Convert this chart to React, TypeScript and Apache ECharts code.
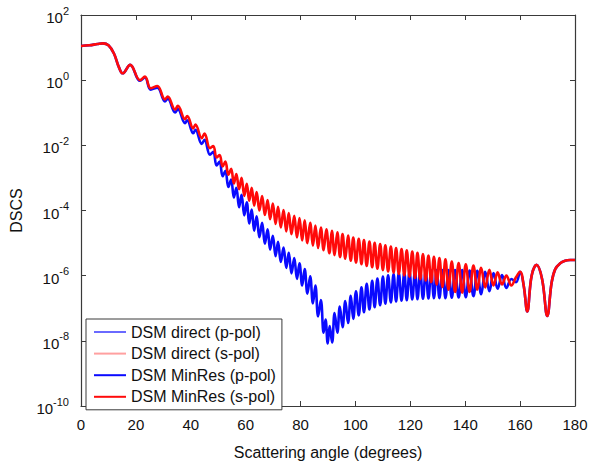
import React, { useEffect, useRef } from "react";
import * as echarts from "echarts";

// [scattering angle (deg), log10(DSCS)]
const sPolPoints: [number, number][] = [
  [0, 1.05], [3, 1.07], [6, 1.11], [8, 1.13], [10, 1.07], [12, 0.82], [13.8, 0.4], [15.2, 0.21],
  [17.9, 0.47], [21.5, 0.0], [23.3, 0.11], [25.4, -0.25], [27.8, -0.18], [30.6, -0.59], [31.6, -0.5],
  [34.3, -0.9], [35.3, -0.79], [37.9, -1.2], [38.7, -1.1], [40.9, -1.48], [41.7, -1.36], [44.0, -1.78],
  [45.0, -1.64], [47.0, -2.09], [48.2, -2.02], [49.4, -2.37], [50.5, -2.3], [51.6, -2.65], [52.6, -2.5],
  [53.7, -2.9], [54.7, -2.72], [55.7, -3.17], [56.6, -2.88], [57.6, -3.35], [58.5, -3.0], [59.5, -3.55],
  [60.4, -3.18], [61.3, -3.7], [62.2, -3.3], [63.1, -3.85], [64.0, -3.43], [65.0, -4.0], [66.0, -3.56],
  [67.0, -4.14], [68.0, -3.68], [68.9, -4.27], [69.9, -3.79], [70.9, -4.41], [71.8, -3.89], [72.8, -4.52],
  [73.8, -3.99], [74.8, -4.64], [75.7, -4.08], [76.7, -4.73], [77.7, -4.16], [78.7, -4.83], [79.6, -4.23],
  [80.6, -4.92], [81.5, -4.3], [82.5, -5.0], [83.5, -4.38], [84.5, -5.08], [85.4, -4.46], [86.4, -5.15],
  [87.4, -4.52], [88.4, -5.22], [89.4, -4.58], [90.5, -5.31], [91.4, -4.62], [92.4, -5.37], [93.4, -4.67],
  [94.4, -5.43], [95.3, -4.72], [96.3, -5.48], [97.3, -4.77], [98.3, -5.54], [99.2, -4.83], [100.2, -5.6],
  [101.2, -4.87], [102.2, -5.65], [103.1, -4.91], [104.1, -5.7], [105.1, -4.95], [106.1, -5.74],
  [107.0, -4.99], [108.0, -5.79], [109.0, -5.03], [110.0, -5.83], [110.9, -5.07], [111.9, -5.87],
  [112.9, -5.11], [113.9, -5.91], [114.8, -5.15], [115.8, -5.95], [116.8, -5.18], [117.8, -5.99],
  [118.7, -5.22], [119.7, -6.03], [120.7, -5.26], [121.7, -6.07], [122.6, -5.3], [123.6, -6.11],
  [124.6, -5.34], [125.6, -6.15], [126.6, -5.38], [127.6, -6.2], [128.6, -5.42], [129.6, -6.27],
  [130.6, -5.46], [131.7, -6.35], [132.8, -5.5], [133.9, -6.43], [135.1, -5.57], [136.3, -6.5],
  [137.6, -5.61], [138.9, -6.52], [140.2, -5.65], [141.6, -6.5], [143.0, -5.69], [144.4, -6.43],
  [145.8, -5.76], [147.3, -6.36], [148.8, -5.82], [150.3, -6.3], [151.8, -5.9], [153.4, -6.27],
  [155.0, -6.0], [156.8, -6.3], [158.5, -6.05], [160.0, -5.88], [161.3, -6.3], [162.6, -7.1],
  [164.2, -6.0], [166.0, -5.67], [168.0, -6.1], [169.9, -7.24], [171.5, -6.2], [172.8, -5.8],
  [174.6, -5.62], [176.4, -5.54], [178.2, -5.52], [180, -5.52],
];

const pPolPoints: [number, number][] = [
  [0, 1.05], [3, 1.07], [6, 1.11], [8, 1.13], [10, 1.07], [12, 0.82], [13.8, 0.4], [15.2, 0.21],
  [17.9, 0.47], [21.5, -0.02], [23.3, 0.08], [25.4, -0.29], [27.8, -0.23], [30.6, -0.65], [31.6, -0.57],
  [34.3, -0.99], [35.3, -0.89], [37.9, -1.32], [38.7, -1.23], [40.9, -1.63], [41.7, -1.52], [44.0, -1.96],
  [45.0, -1.83], [47.0, -2.29], [48.2, -2.2], [49.4, -2.62], [50.5, -2.5], [51.6, -2.95], [52.6, -2.78],
  [53.7, -3.28], [54.7, -3.05], [55.7, -3.6], [56.6, -3.3], [57.6, -3.9], [58.5, -3.52], [59.5, -4.15],
  [60.4, -3.75], [61.3, -4.4], [62.2, -3.97], [63.1, -4.62], [64.0, -4.18], [65.0, -4.82], [66.0, -4.38],
  [67.0, -5.02], [68.0, -4.58], [68.9, -5.2], [69.9, -4.78], [70.9, -5.4], [71.8, -4.96], [72.8, -5.58],
  [73.8, -5.14], [74.8, -5.76], [75.7, -5.3], [76.7, -5.93], [77.7, -5.46], [78.7, -6.1], [79.6, -5.62],
  [80.6, -6.3], [81.5, -5.8], [82.5, -6.55], [83.5, -6.02], [84.5, -6.85], [85.4, -6.3], [86.4, -7.25],
  [87.4, -6.75], [88.4, -7.75], [89.1, -7.35], [89.9, -8.08], [90.6, -7.55], [91.5, -8.05], [92.4, -7.15],
  [93.4, -7.75], [94.3, -6.95], [95.3, -7.58], [96.3, -6.78], [97.3, -7.45], [98.3, -6.62], [99.2, -7.33],
  [100.2, -6.48], [101.2, -7.22], [102.2, -6.36], [103.1, -7.12], [104.1, -6.25], [105.1, -7.04],
  [106.1, -6.16], [107.0, -6.97], [108.0, -6.09], [109.0, -6.91], [110.0, -6.03], [110.9, -6.86],
  [111.9, -5.99], [112.9, -6.82], [113.9, -5.95], [114.8, -6.79], [115.8, -5.92], [116.8, -6.77],
  [117.8, -5.9], [118.7, -6.75], [119.7, -5.88], [120.7, -6.73], [121.7, -5.87], [122.6, -6.72],
  [123.6, -5.86], [124.6, -6.71], [125.6, -5.85], [126.6, -6.7], [127.6, -5.84], [128.6, -6.69],
  [129.6, -5.83], [130.6, -6.69], [131.7, -5.83], [132.8, -6.69], [133.9, -5.83], [135.1, -6.68],
  [136.3, -5.83], [137.6, -6.67], [138.9, -5.83], [140.2, -6.66], [141.6, -5.84], [143.0, -6.63],
  [144.4, -5.85], [145.8, -6.57], [147.3, -5.88], [148.8, -6.48], [150.3, -5.92], [151.8, -6.4],
  [153.4, -5.98], [155.0, -6.38], [156.8, -6.1], [158.5, -6.2], [160.0, -5.88], [161.3, -6.3],
  [162.6, -7.1], [164.2, -6.0], [166.0, -5.67], [168.0, -6.1], [169.9, -7.24], [171.5, -6.2],
  [172.8, -5.8], [174.6, -5.62], [176.4, -5.54], [178.2, -5.52], [180, -5.52],
];

const seriesNames = [
  "DSM direct (p-pol)",
  "DSM direct (s-pol)",
  "DSM MinRes (p-pol)",
  "DSM MinRes (s-pol)",
];

const xMin = 0;
const xMax = 180;
const xStep = 20;
const yMin = 1e-10;
const yMax = 1e2;

const FONT = "'Liberation Sans', Arial, Helvetica, sans-serif";
const AXIS_COLOR = "#3a3a3a";

const toData = (pts: [number, number][]) => pts.map(([a, e]) => [a, Math.pow(10, e)]);

export default function App() {
  const ref = useRef<HTMLDivElement>(null);

  useEffect(() => {
    if (!ref.current) return;
    const chart = echarts.init(ref.current, undefined, { renderer: "svg" });

    const pData = toData(pPolPoints);
    const sData = toData(sPolPoints);

    const axisLine = { show: true, onZero: false, lineStyle: { color: AXIS_COLOR, width: 1.2 } };
    const axisTick = { show: true, inside: true, length: 5, lineStyle: { color: AXIS_COLOR, width: 1 } };

    const mkSeries = (name: string, data: number[][], color: string, width: number) => ({
      name,
      type: "line",
      data,
      showSymbol: false,
      symbol: "none",
      smooth: 0.4,
      lineStyle: { color, width },
      itemStyle: { color },
      emphasis: { disabled: true },
    });

    chart.setOption({
      animation: false,
      backgroundColor: "#ffffff",
      textStyle: { fontFamily: FONT },
      grid: { left: 81, top: 15, width: 494, height: 391, containLabel: false },
      legend: {
        orient: "vertical",
        left: 86,
        top: 319,
        padding: [5, 6, 5, 7],
        itemWidth: 32,
        itemHeight: 14,
        itemGap: 5.6,
        borderColor: AXIS_COLOR,
        borderWidth: 1,
        backgroundColor: "#ffffff",
        itemStyle: { opacity: 0, borderWidth: 0 },
        textStyle: { fontSize: 16, color: "#111", fontFamily: FONT },
        data: seriesNames,
      },
      xAxis: [
        {
          type: "value",
          min: xMin,
          max: xMax,
          interval: xStep,
          name: "Scattering angle (degrees)",
          nameLocation: "middle",
          nameGap: 38,
          nameTextStyle: { fontSize: 16, color: "#111", fontFamily: FONT },
          axisLine,
          axisTick,
          axisLabel: { fontSize: 15, color: "#111", margin: 11, fontFamily: FONT },
          splitLine: { show: false },
        },
        {
          type: "value",
          position: "top",
          min: xMin,
          max: xMax,
          interval: xStep,
          axisLine,
          axisTick,
          axisLabel: { show: false },
          splitLine: { show: false },
        },
      ],
      yAxis: [
        {
          type: "log",
          logBase: 10,
          min: yMin,
          max: yMax,
          interval: 2,
          name: "DSCS",
          nameLocation: "middle",
          nameGap: 57,
          nameRotate: 90,
          nameTextStyle: { fontSize: 16, color: "#111", fontFamily: FONT },
          axisLine,
          axisTick,
          axisLabel: {
            margin: 12,
            color: "#111",
            formatter: (v: number) => `{a|10}{b|${Math.round(Math.log10(v))}}`,
            rich: {
              a: { fontSize: 15, lineHeight: 20, verticalAlign: "bottom", fontFamily: FONT, color: "#111" },
              b: { fontSize: 11, lineHeight: 20, verticalAlign: "top", fontFamily: FONT, color: "#111" },
            },
          },
          splitLine: { show: false },
        },
        {
          type: "log",
          logBase: 10,
          position: "right",
          min: yMin,
          max: yMax,
          interval: 2,
          axisLine,
          axisTick,
          axisLabel: { show: false },
          splitLine: { show: false },
        },
      ],
      series: [
        mkSeries(seriesNames[0], pData, "#6a6aff", 1),
        mkSeries(seriesNames[1], sData, "#ffa0a0", 1),
        mkSeries(seriesNames[2], pData, "#0a0aff", 2.6),
        mkSeries(seriesNames[3], sData, "#ff0a0a", 2.6),
      ],
    });

    return () => chart.dispose();
  }, []);

  return (
    <div
      ref={ref}
      style={{ position: "fixed", left: 0, top: 0, width: 591, height: 468, background: "#fff" }}
    />
  );
}
